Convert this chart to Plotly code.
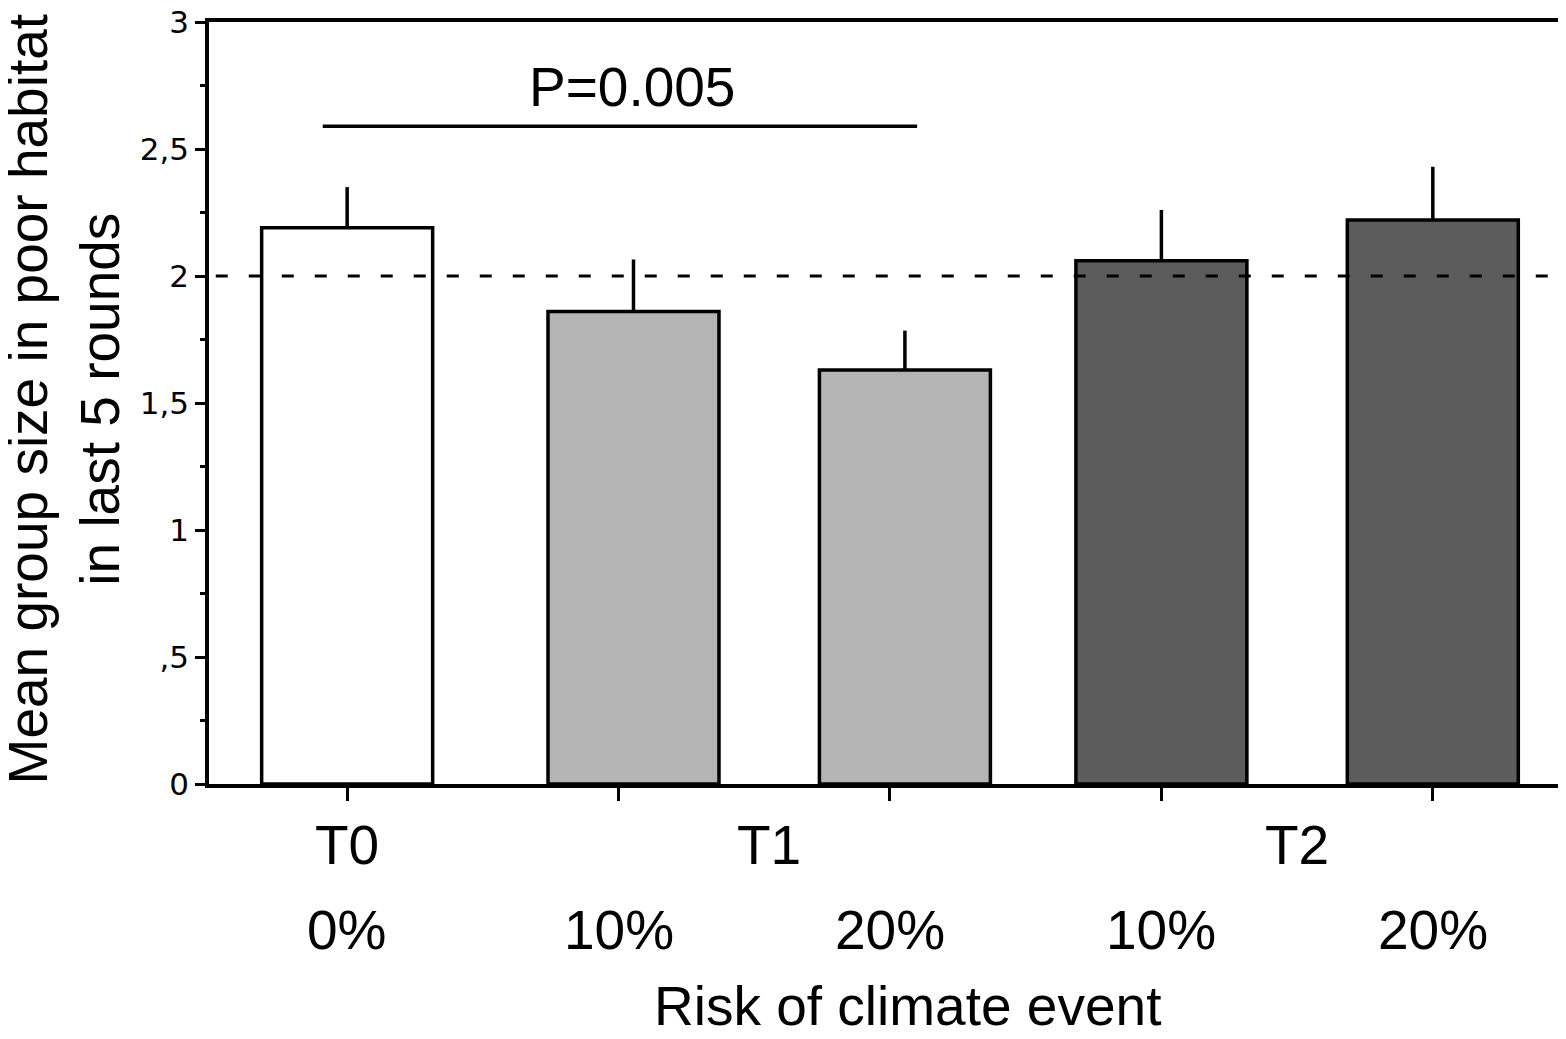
import plotly.graph_objects as go

# data
groups = ["T0", "T1", "T1", "T2", "T2"]
risks = ["0%", "10%", "20%", "10%", "20%"]
means = [2.19, 1.86, 1.63, 2.06, 2.22]
sems = [0.16, 0.205, 0.155, 0.20, 0.21]
ytick_vals = [0, 0.5, 1, 1.5, 2, 2.5, 3]
ytick_text = ["0", ",5", "1", "1,5", "2", "2,5", "3"]
ref_level = 2
p_text = "P=0.005"
p_level = 2.59

cats = [g + " " + r for g, r in zip(groups, risks)]
colors = ["#ffffff", "#b4b4b4", "#b4b4b4", "#5c5c5c", "#5c5c5c"]
bar_w = 0.63
shift = [0, 0.055, 0.055, 0, 0]   # the T1 bars sit a bit right of their ticks
font = "Liberation Sans, Arial, sans-serif"
tick_font = "DejaVu Sans, Verdana, sans-serif"
big = 55

fig = go.Figure(go.Bar(
    x=cats, y=means,
    width=bar_w,
    offset=[-bar_w / 2 + s for s in shift],
    marker=dict(color=colors, line=dict(color="black", width=3.5)),
    error_y=dict(type="data", symmetric=False, array=sems, arrayminus=[0] * len(sems),
                 width=0, thickness=3.5, color="black"),
))

# reference line at 2
fig.add_shape(type="line", xref="paper", yref="y", x0=0.005, x1=0.995, y0=ref_level, y1=ref_level,
              line=dict(color="black", width=3, dash="12px,21px"), layer="above")

# significance bar T0 vs T1 20%
fig.add_shape(type="line", xref="x", yref="y", x0=-0.09, x1=2.1, y0=p_level, y1=p_level,
              line=dict(color="black", width=3.5))
fig.add_annotation(x=1.05, y=p_level + 0.155, xref="x", yref="y", text=p_text, showarrow=False,
                   font=dict(size=big, color="black", family=font), yanchor="middle")

# group labels (centre of the member bars)
seen = []
for g in groups:
    if g in seen:
        continue
    seen.append(g)
    idx = [i for i, gg in enumerate(groups) if gg == g]
    xc = sum(i + shift[i] for i in idx) / len(idx)
    fig.add_annotation(x=xc, y=-0.08, xref="x", yref="paper", text=g, showarrow=False,
                       font=dict(size=big, color="black", family=font), yanchor="middle")

for i, r in enumerate(risks):
    fig.add_annotation(x=i, y=-0.192, xref="x", yref="paper", text=r, showarrow=False,
                       font=dict(size=big, color="black", family=font), yanchor="middle")

fig.add_annotation(x=0.516, y=-255 / 762, xref="paper", yref="paper", text="Risk of climate event",
                   showarrow=False, font=dict(size=big, color="black", family=font), yanchor="bottom")

fig.add_annotation(x=-0.107, y=0.505, xref="paper", yref="paper",
                   text="Mean group size in poor habitat<br>in last 5 rounds", textangle=-90,
                   showarrow=False, font=dict(size=55, color="black", family=font),
                   xanchor="center", yanchor="middle")

fig.update_xaxes(type="category", range=[-0.509, 4.476], showticklabels=False,
                 ticks="outside", ticklen=13, tickwidth=3, tickcolor="black",
                 showline=True, linewidth=3.5, linecolor="black", mirror=True,
                 showgrid=False, zeroline=False, automargin=False)
fig.update_yaxes(range=[0, 3], tickvals=ytick_vals, ticktext=ytick_text,
                 ticks="outside", ticklen=10, tickwidth=3, tickcolor="black",
                 minor=dict(dtick=0.25, ticks="outside", ticklen=5, tickwidth=3, tickcolor="black"),
                 tickfont=dict(size=31, color="black", family=tick_font),
                 ticklabeloverflow="allow",
                 showline=True, linewidth=3.5, linecolor="black", mirror=True,
                 showgrid=False, zeroline=False, automargin=False)

# page body has an 8px margin, so the figure is 8px smaller than the window
fig.update_layout(width=1558, height=1031, margin=dict(l=201, r=4, t=14, b=255),
                  plot_bgcolor="white", paper_bgcolor="white", showlegend=False,
                  font=dict(family=font, color="black"))

fig.write_html("out.html")
